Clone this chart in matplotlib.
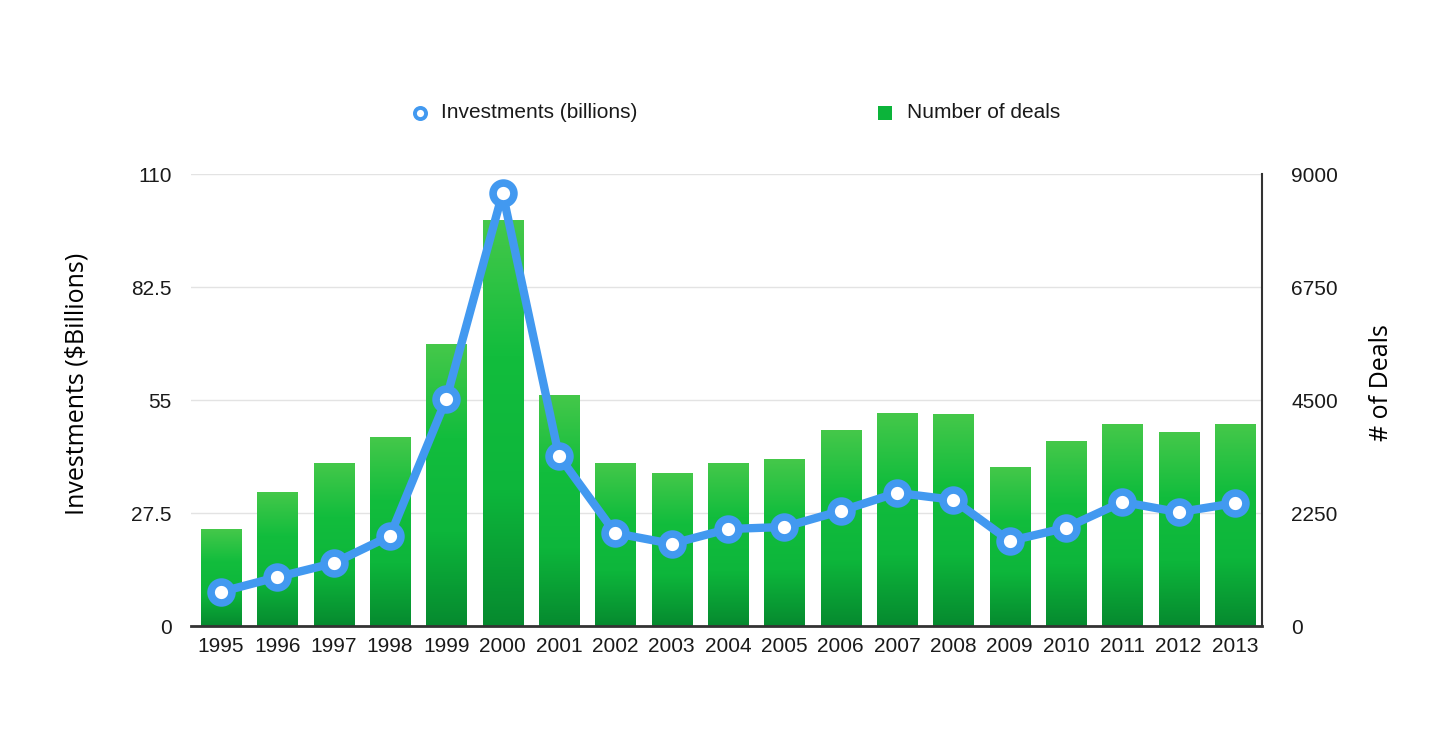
import numpy as np
import matplotlib
matplotlib.use('Agg')
import matplotlib.pyplot as plt
from matplotlib.colors import LinearSegmentedColormap
from matplotlib.lines import Line2D
from matplotlib.patches import Rectangle

# Data
years = ['1995', '1996', '1997', '1998', '1999', '2000', '2001', '2002', '2003', '2004',
         '2005', '2006', '2007', '2008', '2009', '2010', '2011', '2012', '2013']
investments = [8.3, 11.9, 15.3, 21.9, 55.2, 105.4, 41.4, 22.6, 20.0, 23.6,
               24.1, 28.0, 32.4, 30.7, 20.7, 23.9, 30.2, 27.7, 29.9]
deals = [1930, 2670, 3250, 3760, 5610, 8080, 4600, 3250, 3050, 3250,
         3320, 3900, 4240, 4220, 3170, 3680, 4020, 3860, 4020]

left_ticks = [0, 27.5, 55, 82.5, 110]
left_labels = ['0', '27.5', '55', '82.5', '110']
right_ticks = [0, 2250, 4500, 6750, 9000]

blue = '#4299f0'
grad = LinearSegmentedColormap.from_list('g', ['#068a2f', '#0db63b', '#12bd3d', '#45c84a'])

plt.rcParams['font.family'] = ['Liberation Sans', 'DejaVu Sans']
W, H = 1456, 737
fig = plt.figure(figsize=(W / 100, H / 100), dpi=100)
ax = fig.add_axes([0.1312, 0.1506, 0.7356, 0.6133])
ax2 = ax.twinx()

x = np.arange(len(years))

# bars (deals) on the right axis, with vertical gradient
bars = ax2.bar(x, deals, width=0.71, color='none', zorder=2)
gimg = np.linspace(0, 1, 256).reshape(-1, 1)
for b in bars:
    bx, by, bw, bh = b.get_x(), b.get_y(), b.get_width(), b.get_height()
    im = ax2.imshow(gimg, cmap=grad, origin='lower', aspect='auto',
                    extent=[bx, bx + bw, by, by + bh], zorder=2)
    im.set_clip_path(b)

ax2.set_ylim(0, 9000)
ax2.set_yticks(right_ticks)
ax2.set_yticklabels([str(t) for t in right_ticks])
ax2.yaxis.grid(True, color='#e3e3e3', linewidth=1)
ax2.set_axisbelow(True)
ax2.set_ylabel('# of Deals', family=['Open Sans', 'DejaVu Sans'], fontsize=18)
ax2.yaxis.set_label_coords((1369 - 191) / (1262 - 191), (626 - 383) / 452)

# line (investments) on the left axis, drawn on top
ax.set_zorder(ax2.get_zorder() + 1)
ax.patch.set_visible(False)
ax.plot(x, investments, color=blue, linewidth=6, marker='o', markersize=15,
        markerfacecolor='white', markeredgecolor=blue, markeredgewidth=5.5,
        solid_joinstyle='round', zorder=5, clip_on=False)
ax.set_ylim(0, 110)
ax.set_yticks(left_ticks)
ax.set_yticklabels(left_labels)
ax.set_ylabel('Investments ($Billions)', family=['Open Sans', 'DejaVu Sans'], fontsize=18)
ax.yaxis.set_label_coords((89 - 191) / (1262 - 191), (626 - 384) / 452)

ax.set_xlim(-0.53, 18.48)
ax.set_xticks(x)
ax.set_xticklabels(years)

for a in (ax, ax2):
    a.tick_params(length=0, labelsize=15, colors='#1a1a1a', pad=8)
    for s in a.spines.values():
        s.set_visible(False)
ax.tick_params(axis='y', pad=14)
ax2.tick_params(axis='y', pad=21)
ax2.spines['right'].set_visible(True)
ax2.spines['right'].set_color('#333333')
ax2.spines['right'].set_linewidth(1.5)
ax2.spines['bottom'].set_visible(True)
ax2.spines['bottom'].set_color('#333333')
ax2.spines['bottom'].set_linewidth(2)

# legend at top
ly = 1 - 113 / H
fig.add_artist(Line2D([420 / W], [ly], color=blue, marker='o', linestyle='none', markersize=8,
                      markerfacecolor='white', markeredgecolor=blue, markeredgewidth=2.8))
fig.text(441 / W, ly, 'Investments (billions)', fontsize=15, va='center', ha='left', color='#1a1a1a')
fig.add_artist(Rectangle(((885 - 7) / W, ly - 7 / H), 14 / W, 14 / H,
                         facecolor='#0cb43a', edgecolor='none', transform=fig.transFigure))
fig.text(907 / W, ly, 'Number of deals', fontsize=15, va='center', ha='left', color='#1a1a1a')

fig.savefig('out.png', dpi=100, facecolor='white')
